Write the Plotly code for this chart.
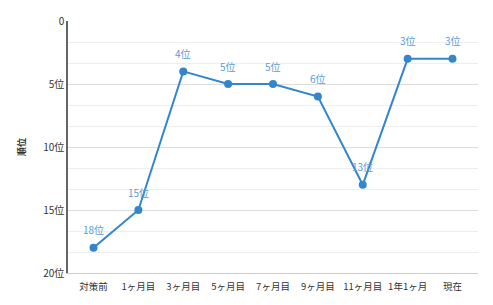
import plotly.graph_objects as go

categories = ["対策前", "1ヶ月目", "3ヶ月目", "5ヶ月目", "7ヶ月目", "9ヶ月目", "11ヶ月目", "1年1ヶ月", "現在"]
ranks = [18, 15, 4, 5, 5, 6, 13, 3, 3]
labels = [f"{r}位" for r in ranks]
ytick_vals = [0, 5, 10, 15, 20]
ytick_text = ["0", "5位", "10位", "15位", "20位"]

FONT = "Noto Sans CJK JP, Noto Sans, sans-serif"

fig = go.Figure()
fig.add_trace(go.Scatter(
    x=categories, y=ranks, mode="lines+markers",
    line=dict(color="#3385cc", width=2),
    marker=dict(color="#3385cc", size=8),
    hoverinfo="skip", showlegend=False,
))
for c, r, t in zip(categories, ranks, labels):
    fig.add_annotation(x=c, y=r, text=t, showarrow=False, yshift=18,
                       font=dict(size=10, color="#5b9bd5", family=FONT))

fig.update_layout(
    width=493, height=305,
    margin=dict(l=68, r=15, t=21, b=32),
    paper_bgcolor="white", plot_bgcolor="white",
    font=dict(family=FONT, size=10, color="#333333"),
)
fig.update_xaxes(
    type="category", showgrid=False, showline=True, linecolor="#cccccc", linewidth=1,
    ticks="", tickfont=dict(size=9.5, color="#333333"), ticklabelstandoff=5,
    fixedrange=True,
)
fig.update_yaxes(
    range=[20, 0], tickvals=ytick_vals, ticktext=ytick_text,
    showgrid=True, gridcolor="#dcdcdc", gridwidth=1,
    minor=dict(dtick=5/3, tick0=0, showgrid=True, gridcolor="#eeeeee", gridwidth=1),
    showline=True, linecolor="#666666", linewidth=1.5,
    zeroline=False, ticks="", tickfont=dict(size=10, color="#333333"),
    title=dict(text="<b>順位</b>", font=dict(size=9, color="#333333"), standoff=16),
)
fig.write_html("out.html")
